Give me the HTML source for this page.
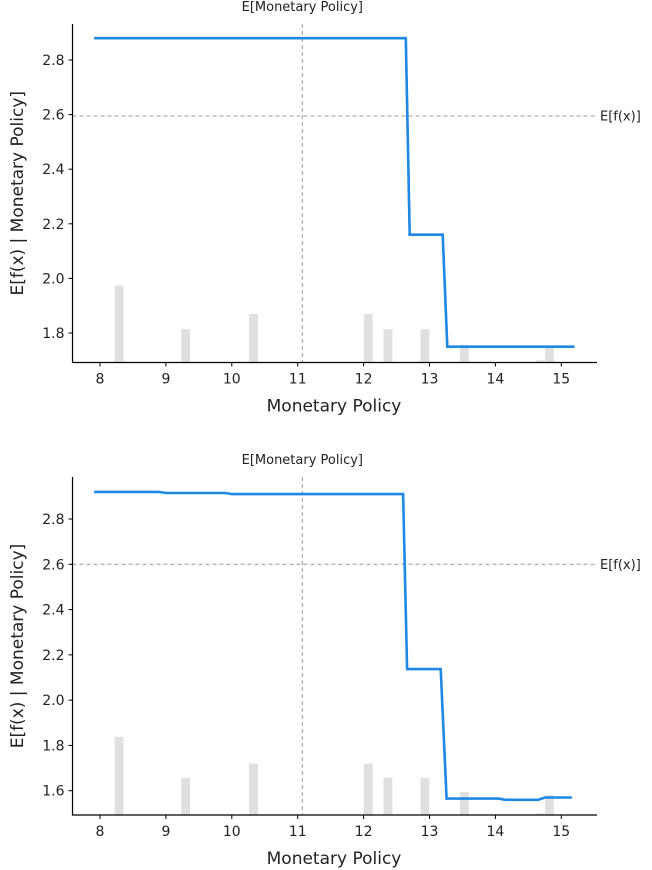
<!DOCTYPE html>
<html><head><meta charset="utf-8"><style>
body{margin:0;background:#fff;}
svg{display:block;font-family:"DejaVu Sans","Liberation Sans",sans-serif;}
</style></head><body>
<svg id="chart" width="652" height="870"></svg>
<script>
const xTicks=[8,9,10,11,12,13,14,15];
const expectedX=11.07;
const topYTicks=[1.8,2.0,2.2,2.4,2.6,2.8];
const botYTicks=[1.6,1.8,2.0,2.2,2.4,2.6,2.8];
const topExpectedY=2.595;
const botExpectedY=2.6;
const topLineX=[7.91,12.64,12.7,13.2,13.27,15.2];
const topLineY=[2.88,2.88,2.16,2.16,1.75,1.75];
const botLineX=[7.91,8.9,9.0,9.9,10.0,12.6,12.66,13.17,13.26,14.05,14.15,14.65,14.75,15.16];
const botLineY=[2.92,2.92,2.915,2.915,2.91,2.91,2.137,2.137,1.565,1.565,1.56,1.56,1.57,1.57];
const barX=[8.29,9.3,10.33,12.07,12.37,12.93,13.53,14.82,14.68];
const topBarTop=[1.974,1.814,1.87,1.87,1.814,1.814,1.757,1.745,1.70];
const botBarTop=[1.838,1.657,1.72,1.72,1.657,1.657,1.595,1.58,1.50];
const barW=0.135;

const NS="http://www.w3.org/2000/svg";
const svg=document.getElementById('chart');
function mk(tag,attrs,parent){const e=document.createElementNS(NS,tag);for(const k in attrs)e.setAttribute(k,attrs[k]);(parent||svg).appendChild(e);return e;}

function panel(cfg){
  const g=mk('g',{});
  
  
  const X=v=>100+(v-8)*65.9;
  const Y=v=>cfg.py0-(v-cfg.v0)*cfg.k;
  const left=72.5,right=597,top=cfg.top,bottom=cfg.bottom;
  barX.forEach((bx,i)=>{
    const yt=Y(cfg.bars[i]);
    const r=mk('rect',{x:X(bx-barW/2),y:yt,width:barW*65.9,height:Math.max(0,bottom-yt),fill:'#e0e0e0'},g);
    
    
  });
  const hl=mk('line',{x1:left,x2:right,y1:Y(cfg.ey),y2:Y(cfg.ey),stroke:'#999','stroke-width':1,'stroke-dasharray':'4,3'},g);
  
  
  const vl=mk('line',{x1:X(expectedX),x2:X(expectedX),y1:top,y2:bottom,stroke:'#999','stroke-width':1,'stroke-dasharray':'4,3'},g);
  
  
  const d=cfg.lx.map((v,i)=>(i?'L':'M')+X(v).toFixed(1)+','+Y(cfg.ly[i]).toFixed(1)).join(' ');
  const p=mk('path',{d:d,fill:'none',stroke:'#1E88E5','stroke-width':2.6},g);
  
  
  const ax=mk('path',{d:`M${left},${top} L${left},${bottom} L${right},${bottom}`,fill:'none',stroke:'#000','stroke-width':1.2},g);
  
  
  xTicks.forEach(t=>{
    mk('line',{x1:X(t),x2:X(t),y1:bottom,y2:bottom+4,stroke:'#000'},g);
    const tx=mk('text',{x:X(t),y:bottom+21,'text-anchor':'middle','font-size':14,fill:'#222'},g);
    tx.textContent=t;
    
    
  });
  cfg.yt.forEach(t=>{
    mk('line',{x1:left-4,x2:left,y1:Y(t),y2:Y(t),stroke:'#000'},g);
    const tx=mk('text',{x:left-8,y:Y(t)+5,'text-anchor':'end','font-size':14,fill:'#222'},g);
    tx.textContent=t.toFixed(1);
    
    
  });
  const xl=mk('text',{x:334,y:bottom+49,'text-anchor':'middle','font-size':17,fill:'#222'},g);
  xl.textContent='Monetary Policy';
  
  
  const yc=(top+bottom)/2;
  const yl=mk('text',{x:0,y:0,'text-anchor':'middle','font-size':17,fill:'#222',transform:`translate(23,${yc}) rotate(-90)`},g);
  yl.textContent='E[f(x) | Monetary Policy]';
  
  
  const et=mk('text',{x:X(expectedX),y:top-13,'text-anchor':'middle','font-size':13,fill:'#222'},g);
  et.textContent='E[Monetary Policy]';
  
  
  const ef=mk('text',{x:600,y:Y(cfg.ey)+4.5,'font-size':13,fill:'#222'},g);
  ef.textContent='E[f(x)]';
  
  
}
panel({name:'top-chart',top:24,bottom:362.5,py0:333,v0:1.8,k:273,yt:topYTicks,ey:topExpectedY,lx:topLineX,ly:topLineY,bars:topBarTop});
panel({name:'bottom-chart',top:477,bottom:815,py0:790.7,v0:1.6,k:226.4,yt:botYTicks,ey:botExpectedY,lx:botLineX,ly:botLineY,bars:botBarTop});
</script>
</body></html>
